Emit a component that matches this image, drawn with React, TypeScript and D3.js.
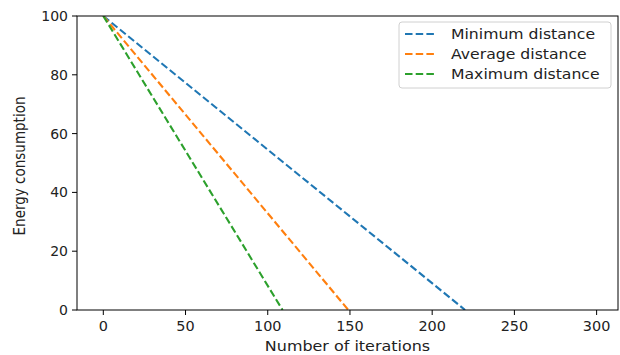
import React from "react";
import * as d3 from "d3";

const seriesNames = ["Minimum distance", "Average distance", "Maximum distance"];
const seriesColors = ["#1f77b4", "#ff7f0e", "#2ca02c"];
const minIter = [0, 220];
const minEnergy = [100, 0];
const avgIter = [0, 149];
const avgEnergy = [100, 0];
const maxIter = [0, 109];
const maxEnergy = [100, 0];
const xTicks = [0, 50, 100, 150, 200, 250, 300];
const yTicks = [0, 20, 40, 60, 80, 100];

const W = 620;
const H = 355;
const L = 77, R = 618, T = 16, B = 310;
const FONT = "'DejaVu Sans', sans-serif";

export default function App() {
  const x = d3.scaleLinear().domain([-16, 313]).range([L, R]);
  const y = d3.scaleLinear().domain([0, 100]).range([B, T]);
  const series = [
    { xs: minIter, ys: minEnergy },
    { xs: avgIter, ys: avgEnergy },
    { xs: maxIter, ys: maxEnergy },
  ];
  const line = d3
    .line<[number, number]>()
    .x((d) => x(d[0]))
    .y((d) => y(d[1]));

  return (
    <svg
      width={W}
      height={H}
      style={{ position: "absolute", left: 0, top: 0, background: "#fff" }}
      fontFamily={FONT}
    >
      <defs>
        <clipPath id="plot">
          <rect x={L} y={T} width={R - L} height={B - T} />
        </clipPath>
      </defs>
      <rect x={0} y={0} width={W} height={H} fill="#fff" />
      <g clipPath="url(#plot)">
        {series.map((s, i) => (
          <path
            key={i}
            d={line(s.xs.map((v, j) => [v, s.ys[j]] as [number, number])) || ""}
            fill="none"
            stroke={seriesColors[i]}
            strokeWidth={2.1}
            strokeDasharray="7.5,3.2"
          />
        ))}
      </g>
      <rect x={L} y={T} width={R - L} height={B - T} fill="none" stroke="#000" strokeWidth={1} />
      {xTicks.map((t) => (
        <g key={t} transform={`translate(${x(t)},${B})`}>
          <line y1={0} y2={5} stroke="#000" />
          <text y={21.5} textAnchor="middle" fontSize={14} fill="#222" transform="scale(1.03,1)">
            {t}
          </text>
        </g>
      ))}
      {yTicks.map((t) => (
        <g key={t} transform={`translate(${L},${y(t)})`}>
          <line x1={-5} x2={0} stroke="#000" />
          <text x={-9} dy="0.36em" textAnchor="end" fontSize={14} fill="#222">
            {t}
          </text>
        </g>
      ))}
      <text
        x={(L + R) / 2}
        y={351}
        textAnchor="middle"
        fontSize={14}
        fill="#222"
        transform={`translate(${(L + R) / 2},0) scale(1.14,1) translate(${-(L + R) / 2},0)`}
      >
        Number of iterations
      </text>
      <text
        transform={`translate(24.5,166) rotate(-90)`}
        textAnchor="middle"
        fontSize={15}
        fill="#222"
        style={{ fontStretch: "condensed" }}
        fontFamily="'DejaVu Sans Condensed', 'DejaVu Sans', sans-serif"
      >
        Energy consumption
      </text>
      <g>
        <rect x={399} y={22} width={212} height={66} rx={3} fill="#fff" fillOpacity={0.8} stroke="#d0d0d0" />
        {seriesNames.map((n, i) => (
          <g key={n} transform={`translate(0,${34 + i * 20})`}>
            <line x1={405} x2={437} stroke={seriesColors[i]} strokeWidth={2.1} strokeDasharray="7.5,3.2" />
            <text
              x={451}
              dy="0.36em"
              fontSize={14}
              fill="#222"
              transform="translate(451,0) scale(1.12,1) translate(-451,0)"
            >
              {n}
            </text>
          </g>
        ))}
      </g>
    </svg>
  );
}
